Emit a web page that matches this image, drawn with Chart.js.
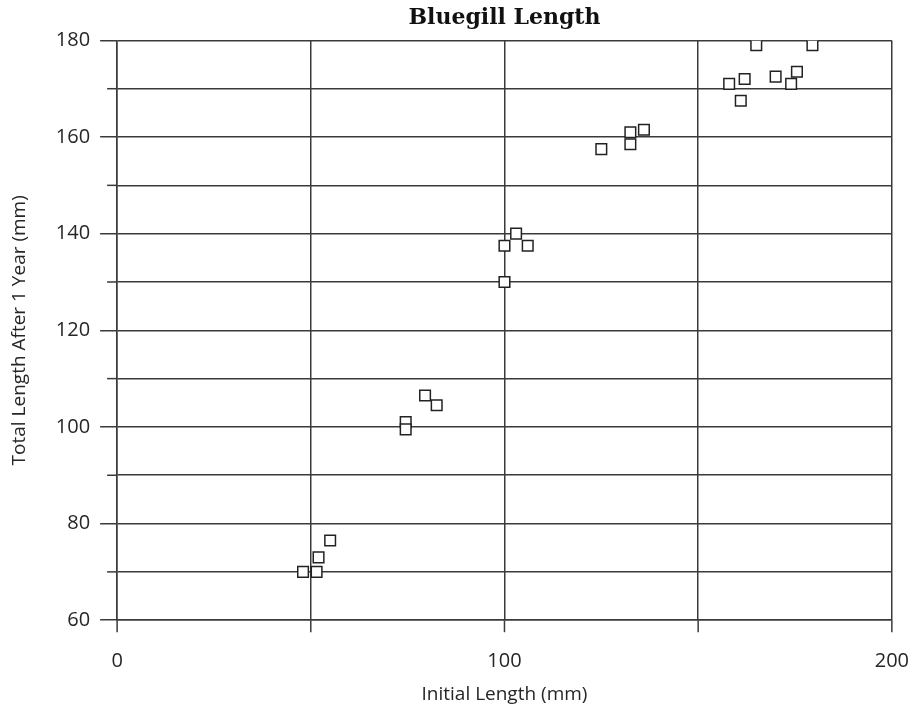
<!DOCTYPE html>
<html>
<head>
<meta charset="utf-8">
<title>Bluegill Length</title>
<script src="https://cdn.jsdelivr.net/npm/chart.js@4/dist/chart.umd.min.js"></script>
<style>
    html, body { margin: 0; padding: 0; background: #ffffff; }
    #wrap { width: 909px; height: 713px; position: relative; }
</style>
</head>
<body>
<div id="wrap"><canvas id="fishChart"></canvas></div>
<script>
/*
  Bluegill Length - scatter of initial vs. after-1-year length
*/

const initialLength = [
    48, 51.5, 52, 55,
    74.5, 74.5, 79.5, 82.5,
    100, 100, 103, 106,
    125, 132.5, 132.5, 136,
    158, 161, 162, 165, 170, 174, 175.5, 179.5
]

const lengthAfterYear = [
    70, 70, 73, 76.5,
    101, 99.5, 106.5, 104.5,
    130, 137.5, 140, 137.5,
    157.5, 158.5, 161, 161.5,
    171, 167.5, 172, 179, 172.5, 171, 173.5, 179
]

const xTicks = [0, 100, 200]
const yTicks = [60, 80, 100, 120, 140, 160, 180]

const lineColor = "#3a3a3a"
const textColor = "#262626"

const points = initialLength.map((x, i) => ({ x: x, y: lengthAfterYear[i] }))

// short tick marks: below the x axis at every 50, left of the y axis
// for the in-between gridlines (70, 90, ...)
const shortTicks = {
    id: "shortTicks",
    afterDraw(chart) {
        const x = chart.scales.x
        const y = chart.scales.y
        const ctx = chart.ctx
        ctx.save()
        ctx.strokeStyle = lineColor
        ctx.lineWidth = 1.5
        y.ticks.forEach(t => {
            if (yTicks.includes(t.value)) {
                return
            }
            const py = y.getPixelForValue(t.value)
            ctx.beginPath()
            ctx.moveTo(y.right - 10, py)
            ctx.lineTo(y.right, py)
            ctx.stroke()
        })
        x.ticks.forEach(t => {
            const px = x.getPixelForValue(t.value)
            ctx.beginPath()
            ctx.moveTo(px, x.top)
            ctx.lineTo(px, x.top + 12)
            ctx.stroke()
        })
        ctx.restore()
    }
}

const chart = new Chart(document.getElementById("fishChart"), {

    type: "scatter",

    data: {
        datasets: [
            {
                label: "Bluegill",
                data: points,
                pointStyle: "rect",
                pointRadius: 7.5,
                pointHoverRadius: 7.5,
                borderWidth: 1.5,
                borderColor: "#222222",
                backgroundColor: "#ffffff"
            }
        ]
    },

    options: {
        responsive: true,
        maintainAspectRatio: false,
        animation: false,
        events: [],
        layout: {
            padding: { left: 8, right: 0, top: 2, bottom: 7 }
        },
        plugins: {
            legend: { display: false },
            tooltip: { enabled: false },
            title: {
                display: true,
                text: "Bluegill Length",
                fullSize: false,
                color: "#111111",
                font: { family: "DejaVu Serif", size: 22, weight: "bold" },
                padding: { top: 3, bottom: 9 }
            }
        },
        scales: {
            x: {
                type: "linear",
                min: 0,
                max: 200,
                ticks: {
                    stepSize: 50,
                    color: textColor,
                    font: { family: "Open Sans", size: 20 },
                    padding: 0,
                    maxRotation: 0,
                    autoSkip: false,
                    callback: v => xTicks.includes(v) ? String(v) : ""
                },
                grid: {
                    color: lineColor,
                    lineWidth: 1.5,
                    tickLength: 29,
                    tickColor: "rgba(0,0,0,0)"
                },
                border: { color: lineColor, width: 1.5 },
                title: {
                    display: true,
                    text: "Initial Length (mm)",
                    color: textColor,
                    font: { family: "Open Sans", size: 19 },
                    padding: { top: 10, bottom: 0 }
                }
            },
            y: {
                type: "linear",
                min: 60,
                max: 180,
                ticks: {
                    stepSize: 10,
                    color: textColor,
                    font: { family: "Open Sans", size: 20 },
                    padding: 10,
                    autoSkip: false,
                    callback: v => yTicks.includes(v) ? String(v) : ""
                },
                grid: {
                    color: lineColor,
                    lineWidth: 1.5,
                    tickLength: 17,
                    tickColor: ctx => yTicks.includes(ctx.tick && ctx.tick.value) ? lineColor : "rgba(0,0,0,0)"
                },
                border: { color: lineColor, width: 1.5 },
                title: {
                    display: true,
                    text: "Total Length After 1 Year (mm)",
                    color: textColor,
                    font: { family: "Open Sans", size: 19 },
                    padding: { top: 0, bottom: 15 }
                }
            }
        }
    },

    plugins: [shortTicks]
})
</script>
</body>
</html>
